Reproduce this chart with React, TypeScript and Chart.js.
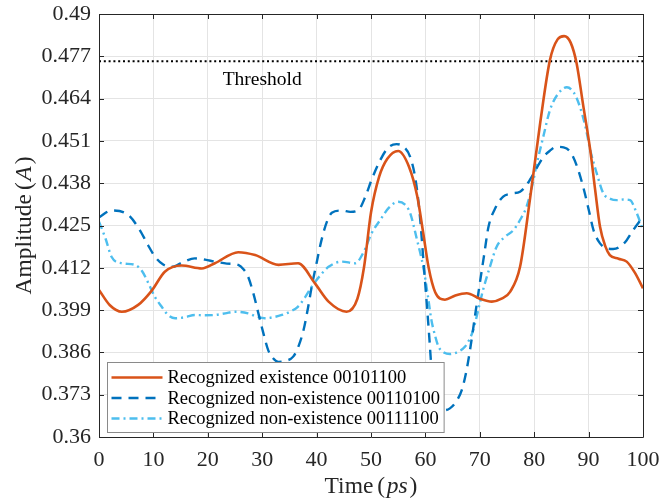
import React, { useEffect, useRef } from 'react';
import { Chart, registerables } from 'chart.js';

Chart.register(...registerables);

// ---------- data ----------
const existenceT = [0, 2, 4.2, 7.2, 9.7, 12.1, 15.2, 18.9, 21.3, 25.6, 28.7, 33, 36.6, 39.7, 42.2, 45.5, 47.5, 48.7, 50, 51.5, 53, 55, 57, 58.5, 59.6, 60.6, 61.8, 63.6, 65.5, 67.6, 70, 72.2, 74, 75.6, 77.4, 79.2, 81.1, 82.9, 84.3, 85.5, 86.7, 87.8, 89, 90.3, 91.2, 92.1, 93.1, 93.9, 95.5, 97, 98.5, 100];
const existenceV = [0.4052, 0.4005, 0.3985, 0.4006, 0.405, 0.4108, 0.4127, 0.4118, 0.4134, 0.4168, 0.4159, 0.4129, 0.4134, 0.4072, 0.4016, 0.3985, 0.4025, 0.412, 0.429, 0.44, 0.4455, 0.4479, 0.443, 0.434, 0.4227, 0.412, 0.4045, 0.4022, 0.4035, 0.4042, 0.4025, 0.4016, 0.4025, 0.4047, 0.4123, 0.4328, 0.4565, 0.4759, 0.4822, 0.4832, 0.4812, 0.4748, 0.462, 0.4482, 0.436, 0.4246, 0.4185, 0.4159, 0.4148, 0.4139, 0.4105, 0.4057];

const nonExistAT = [0, 2.3, 5.4, 7.5, 9, 10.3, 11.8, 13.4, 15.5, 17.6, 19.5, 21.3, 23.5, 25.6, 26.6, 27.4, 28.4, 29.3, 30.2, 31.1, 32, 33, 34.3, 35.7, 36.7, 37.6, 38.4, 39.1, 40, 40.9, 41.9, 42.8, 44.6, 46.2, 47.7, 49, 50.1, 51.7, 53.2, 54.7, 56, 57.2, 58.2, 59, 59.6, 60.2, 60.7, 61.1, 61.6, 62.1, 63.3, 64.5, 65.7, 66.7, 67.5, 68.2, 69.1, 70, 70.8, 71.6, 72.9, 74.3, 75.8, 77.4, 78.4, 79.2, 80.4, 81.7, 82.9, 84.1, 85.4, 86.6, 87.8, 89, 90, 90.9, 92.1, 93.3, 94.5, 95.8, 97, 98.2, 100];
const nonExistAV = [0.4275, 0.4296, 0.4282, 0.4236, 0.419, 0.4154, 0.413, 0.4123, 0.4138, 0.4149, 0.4145, 0.4139, 0.4133, 0.4129, 0.4115, 0.4093, 0.404, 0.398, 0.392, 0.3867, 0.3842, 0.3831, 0.3834, 0.3847, 0.388, 0.3929, 0.3995, 0.4062, 0.4135, 0.4205, 0.4262, 0.4289, 0.4296, 0.4292, 0.4298, 0.434, 0.439, 0.4451, 0.449, 0.45, 0.4492, 0.4461, 0.439, 0.4277, 0.415, 0.4021, 0.391, 0.3816, 0.375, 0.3693, 0.3682, 0.3688, 0.371, 0.3745, 0.38, 0.3867, 0.397, 0.4072, 0.416, 0.4246, 0.4305, 0.4339, 0.4348, 0.4354, 0.437, 0.439, 0.4425, 0.4461, 0.448, 0.4492, 0.449, 0.4477, 0.4435, 0.4369, 0.43, 0.4236, 0.4195, 0.418, 0.4178, 0.4185, 0.4205, 0.4236, 0.4277];

const nonExistBT = [0, 1.2, 2.3, 4.2, 6.6, 7.9, 9.1, 10.3, 11.5, 12.7, 14, 15.8, 17.6, 19.5, 21.3, 23.2, 25, 27.4, 29, 30.5, 32, 33.6, 35.1, 36.6, 37.9, 39.1, 40.6, 42.2, 44.6, 47.1, 48.7, 50.1, 51.7, 53.3, 55, 56.2, 57.2, 58.4, 59.6, 60.4, 61.1, 61.8, 62.4, 63.4, 64.5, 66, 67.3, 68.1, 68.8, 69.7, 70.6, 71.8, 73.1, 74.6, 76.2, 77.5, 78.6, 79.6, 80.5, 81.7, 82.9, 84.4, 86, 87.3, 88.4, 89.4, 90.3, 91.5, 92.7, 94, 95.2, 96.4, 97.6, 98.8, 100];
const nonExistBV = [0.4262, 0.421, 0.4154, 0.4134, 0.4129, 0.411, 0.4072, 0.403, 0.4001, 0.3975, 0.3965, 0.3968, 0.3975, 0.3974, 0.3975, 0.398, 0.3985, 0.398, 0.397, 0.3965, 0.3968, 0.3975, 0.3985, 0.4001, 0.403, 0.4062, 0.4095, 0.4123, 0.4139, 0.4134, 0.417, 0.4226, 0.4267, 0.4305, 0.4323, 0.4315, 0.4288, 0.421, 0.4123, 0.404, 0.396, 0.391, 0.3878, 0.386, 0.3855, 0.3862, 0.3878, 0.39, 0.3929, 0.399, 0.4052, 0.412, 0.4185, 0.4215, 0.4236, 0.427, 0.4308, 0.437, 0.4441, 0.4525, 0.4605, 0.4655, 0.4675, 0.4658, 0.4615, 0.4555, 0.4482, 0.441, 0.4349, 0.4332, 0.4328, 0.433, 0.4328, 0.429, 0.4236];

const seriesLabels = [
  'Recognized existence 00101100',
  'Recognized non-existence 00110100',
  'Recognized non-existence 00111100',
];

const thresholdValue = 0.4755;
const thresholdLabel = 'Threshold';
const thresholdLabelT = 30;
const thresholdLabelV = 0.4697;

const xTickValues = [0, 10, 20, 30, 40, 50, 60, 70, 80, 90, 100];
const yTickValues = [0.36, 0.373, 0.386, 0.399, 0.412, 0.425, 0.438, 0.451, 0.464, 0.477, 0.49];
const yTickLabels = ['0.36', '0.373', '0.386', '0.399', '0.412', '0.425', '0.438', '0.451', '0.464', '0.477', '0.49'];

// ---------- styling ----------
const SERIF = "'Liberation Serif', 'DejaVu Serif', serif";
const AXIS_COLOR = '#262626';
const GRID_COLOR = '#e4e4e4';

const toPoints = (t: number[], v: number[]) => t.map((x, i) => ({ x, y: v[i] }));

const drawPieces = (
  ctx: CanvasRenderingContext2D,
  pieces: { text: string; italic?: boolean; gapAfter?: number }[],
  size: number,
  cx: number,
  baseline: number,
) => {
  const fontOf = (it?: boolean) => `${it ? 'italic ' : ''}${size}px ${SERIF}`;
  let total = 0;
  const widths = pieces.map((p) => {
    ctx.font = fontOf(p.italic);
    const w = ctx.measureText(p.text).width;
    total += w + (p.gapAfter || 0);
    return w;
  });
  let x = cx - total / 2;
  ctx.textAlign = 'left';
  ctx.textBaseline = 'alphabetic';
  pieces.forEach((p, i) => {
    ctx.font = fontOf(p.italic);
    ctx.fillText(p.text, x, baseline);
    x += widths[i] + (p.gapAfter || 0);
  });
};

const matlabPlugin = {
  id: 'matlabDecor',
  afterDraw(chart: any) {
    const { ctx, chartArea } = chart;
    const { left, right, top, bottom } = chartArea;
    const xs = chart.scales.x;
    const ys = chart.scales.y;
    ctx.save();

    // threshold label
    ctx.fillStyle = '#000';
    ctx.font = `19.5px ${SERIF}`;
    ctx.textAlign = 'center';
    ctx.textBaseline = 'middle';
    ctx.fillText(thresholdLabel, xs.getPixelForValue(thresholdLabelT), ys.getPixelForValue(thresholdLabelV));

    // axes box and inward ticks
    ctx.strokeStyle = AXIS_COLOR;
    ctx.lineWidth = 1;
    ctx.beginPath();
    ctx.rect(left + 0.5, top + 0.5, right - left, bottom - top);
    ctx.stroke();
    const tl = 5;
    ctx.beginPath();
    xTickValues.forEach((v) => {
      const px = Math.round(xs.getPixelForValue(v)) + 0.5;
      ctx.moveTo(px, bottom);
      ctx.lineTo(px, bottom - tl);
      ctx.moveTo(px, top);
      ctx.lineTo(px, top + tl);
    });
    yTickValues.forEach((v) => {
      const py = Math.round(ys.getPixelForValue(v)) + 0.5;
      ctx.moveTo(left, py);
      ctx.lineTo(left + tl, py);
      ctx.moveTo(right, py);
      ctx.lineTo(right - tl, py);
    });
    ctx.stroke();

    // legend
    const lFont = `18.5px ${SERIF}`;
    ctx.font = lFont;
    const maxW = Math.max(...seriesLabels.map((s) => ctx.measureText(s).width));
    const bx = left + 8.5;
    const bh = 70;
    const by = bottom - 5 - bh + 0.5;
    const bw = 60 + maxW + 4;
    ctx.fillStyle = '#fff';
    ctx.fillRect(bx, by, bw, bh);
    ctx.strokeStyle = '#8a8a8a';
    ctx.lineWidth = 1;
    ctx.strokeRect(bx, by, bw, bh);
    const rowH = 20.5;
    seriesLabels.forEach((label, i) => {
      const ds = chart.data.datasets[i];
      const cy = by + 15 + i * rowH;
      ctx.save();
      ctx.strokeStyle = ds.borderColor;
      ctx.lineWidth = ds.borderWidth;
      ctx.setLineDash(ds.borderDash || []);
      ctx.beginPath();
      ctx.moveTo(bx + 4, cy);
      ctx.lineTo(bx + 55, cy);
      ctx.stroke();
      ctx.restore();
      ctx.fillStyle = '#000';
      ctx.font = lFont;
      ctx.textAlign = 'left';
      ctx.textBaseline = 'middle';
      ctx.fillText(label, bx + 60, cy + 1);
    });

    // axis titles
    ctx.fillStyle = AXIS_COLOR;
    drawPieces(
      ctx,
      [
        { text: 'Time', gapAfter: 4 },
        { text: '(', gapAfter: 1.5 },
        { text: 'ps', italic: true, gapAfter: 2 },
        { text: ')' },
      ],
      23.5,
      (left + right) / 2,
      bottom + 56,
    );
    ctx.save();
    ctx.translate(31, (top + bottom) / 2);
    ctx.rotate(-Math.PI / 2);
    drawPieces(
      ctx,
      [
        { text: 'Amplitude', gapAfter: 4 },
        { text: '(', gapAfter: 1.5 },
        { text: 'A', italic: true, gapAfter: 2 },
        { text: ')' },
      ],
      23.5,
      0,
      0,
    );
    ctx.restore();

    ctx.restore();
  },
};

export default function App() {
  const ref = useRef<HTMLCanvasElement>(null);
  useEffect(() => {
    const canvas = ref.current;
    if (!canvas) return;
    const chart = new Chart(canvas, {
      type: 'line',
      data: {
        datasets: [
          {
            label: seriesLabels[0],
            data: toPoints(existenceT, existenceV),
            borderColor: '#D95319',
            borderWidth: 2.6,
            pointRadius: 0,
            cubicInterpolationMode: 'monotone',
          },
          {
            label: seriesLabels[1],
            data: toPoints(nonExistAT, nonExistAV),
            borderColor: '#0072BD',
            borderWidth: 2.4,
            borderDash: [10, 7],
            pointRadius: 0,
            cubicInterpolationMode: 'monotone',
          },
          {
            label: seriesLabels[2],
            data: toPoints(nonExistBT, nonExistBV),
            borderColor: '#4DBEEE',
            borderWidth: 2.4,
            borderDash: [8, 4, 2, 4],
            pointRadius: 0,
            cubicInterpolationMode: 'monotone',
          },
          {
            label: thresholdLabel,
            data: [
              { x: 0, y: thresholdValue },
              { x: 100, y: thresholdValue },
            ],
            borderColor: '#000',
            borderWidth: 2,
            borderDash: [2, 2.8],
            pointRadius: 0,
          },
        ],
      } as any,
      options: {
        responsive: false,
        animation: false,
        devicePixelRatio: 1,
        layout: { padding: { left: 0, top: 14, right: 20, bottom: 0 } },
        plugins: { legend: { display: false }, tooltip: { enabled: false } },
        scales: {
          x: {
            type: 'linear',
            min: 0,
            max: 100,
            afterBuildTicks: (scale: any) => {
              scale.ticks = xTickValues.map((v) => ({ value: v }));
            },
            afterFit: (scale: any) => {
              scale.height = 66;
              scale.paddingLeft = 0;
              scale.paddingRight = 0;
              scale.paddingTop = 0;
              scale.paddingBottom = 0;
            },
            ticks: {
              font: { family: SERIF, size: 22 },
              color: AXIS_COLOR,
              padding: 10,
              maxRotation: 0,
              autoSkip: false,
              callback: (v: any) => String(v),
            },
            grid: { color: GRID_COLOR, drawTicks: false },
            border: { display: false },
          },
          y: {
            type: 'linear',
            min: 0.36,
            max: 0.49,
            afterBuildTicks: (scale: any) => {
              scale.ticks = yTickValues.map((v) => ({ value: v }));
            },
            afterFit: (scale: any) => {
              scale.width = 99;
              scale.paddingLeft = 0;
              scale.paddingRight = 0;
              scale.paddingTop = 0;
              scale.paddingBottom = 0;
            },
            ticks: {
              font: { family: SERIF, size: 22 },
              color: AXIS_COLOR,
              padding: 8,
              autoSkip: false,
              callback: (_v: any, i: number) => yTickLabels[i],
            },
            grid: { color: GRID_COLOR, drawTicks: false },
            border: { display: false },
          },
        },
      } as any,
      plugins: [matlabPlugin],
    });
    return () => chart.destroy();
  }, []);
  return (
    <div style={{ position: 'fixed', left: 0, top: 0, width: 663, height: 503, background: '#fff' }}>
      <canvas ref={ref} width={663} height={503} style={{ width: 663, height: 503, display: 'block' }} />
    </div>
  );
}
